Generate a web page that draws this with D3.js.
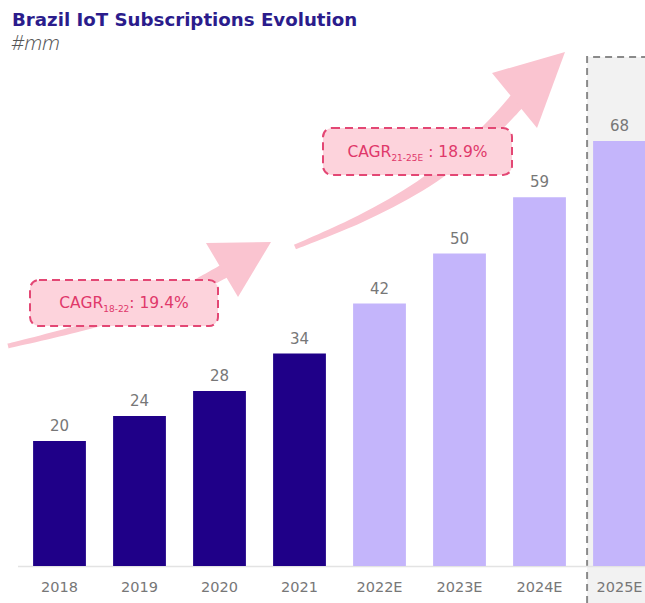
<!DOCTYPE html>
<html>
<head>
<meta charset="utf-8">
<script src="https://cdn.jsdelivr.net/npm/d3@7"></script>
<style>
  body { margin: 0; background: #fff; }
  svg { font-family: "DejaVu Sans", "Open Sans", sans-serif; }
</style>
</head>
<body>
<svg id="chart" width="645" height="603"></svg>
<script>
// chart data
const years = ["2018", "2019", "2020", "2021", "2022E", "2023E", "2024E", "2025E"];
const subscriptions = [20, 24, 28, 34, 42, 50, 59, 68];
const isEstimate = [false, false, false, false, true, true, true, true];
const cagrLabels = [
    { main: "CAGR", sub: "18-22", rest: ": 19.4%" },
    { main: "CAGR", sub: "21-25E", rest: " : 18.9%" }
];

const svg = d3.select("#chart");

const x = d3.scaleBand()
    .domain(years)
    .range([19.5, 659.5])
    .paddingInner(0.34)
    .paddingOuter(0.17);

const y = d3.scaleLinear()
    .domain([0, 80])
    .range([566, 66]);

// Highlight for the last year
const lastX = x("2025E") - 6;
svg.append("rect")
    .attr("x", lastX)
    .attr("y", 57)
    .attr("width", 645 - lastX)
    .attr("height", 603 - 57)
    .attr("fill", "#f2f2f2");

svg.append("path")
    .attr("d", `M${lastX},603 L${lastX},57 L645,57`)
    .attr("fill", "none")
    .attr("stroke", "#8a8a8a")
    .attr("stroke-width", 2)
    .attr("stroke-dasharray", "7,5");

// Title
svg.append("text")
    .attr("x", 12)
    .attr("y", 26)
    .text("Brazil IoT Subscriptions Evolution")
    .style("font-size", "18.2px")
    .style("font-weight", "bold")
    .style("fill", "#2b1c8c");

svg.append("text")
    .attr("x", 11)
    .attr("y", 50)
    .text("#mm")
    .style("font-family", "'Open Sans', sans-serif")
    .style("font-size", "21px")
    .style("font-style", "italic")
    .style("font-weight", "300")
    .style("fill", "#555");

// Growth arrows (pink, drawn behind the callouts)
// centre line + width at each point, then a triangle head
function drawArrow(center, widths, head) {
    const top = [], bottom = [];
    center.forEach((p, i) => {
        const a = center[Math.max(i - 1, 0)];
        const b = center[Math.min(i + 1, center.length - 1)];
        const dx = b[0] - a[0], dy = b[1] - a[1];
        const len = Math.hypot(dx, dy);
        const nx = -dy / len, ny = dx / len;
        const w = widths[i] / 2;
        top.push([p[0] + nx * w, p[1] + ny * w]);
        bottom.push([p[0] - nx * w, p[1] - ny * w]);
    });
    const edge = d3.line().curve(d3.curveCatmullRom);
    const d = edge(top) + "L" + edge(bottom.reverse()).slice(1) + "Z";
    svg.append("path")
        .attr("d", d)
        .attr("fill", "#fac4d0");
    svg.append("path")
        .attr("d", d3.line()(head) + "Z")
        .attr("fill", "#fac4d0");
}

drawArrow(
    [[8, 346], [80, 328], [150, 306], [200, 284], [226, 270]],
    [5, 7, 10, 13, 14],
    [[206, 243], [271, 242], [238, 297]]
);

drawArrow(
    [[295, 247], [360, 219], [420, 186], [470, 148], [500, 120], [518, 100]],
    [5, 8, 11, 14, 16, 17],
    [[492, 73], [565, 52], [537, 128]]
);

// Baseline
svg.append("line")
    .attr("x1", 18)
    .attr("x2", 645)
    .attr("y1", y(0) + 0.5)
    .attr("y2", y(0) + 0.5)
    .attr("stroke", "#e3e3e3")
    .attr("stroke-width", 1.5);

// Bars
svg.selectAll(".bar")
    .data(years)
    .enter()
    .append("rect")
    .attr("class", "bar")
    .attr("x", d => x(d))
    .attr("y", (d, i) => y(subscriptions[i]))
    .attr("width", x.bandwidth())
    .attr("height", (d, i) => y(0) - y(subscriptions[i]))
    .attr("fill", (d, i) => isEstimate[i] ? "#c4b5fb" : "#1f0088");

// Value labels
svg.selectAll(".value")
    .data(years)
    .enter()
    .append("text")
    .attr("class", "value")
    .attr("x", d => x(d) + x.bandwidth() / 2)
    .attr("y", (d, i) => y(subscriptions[i]) - 10)
    .attr("text-anchor", "middle")
    .text((d, i) => subscriptions[i])
    .style("font-size", "15px")
    .style("fill", "#777");

// x axis labels
const xAxis = svg.append("g")
    .attr("transform", `translate(0,${y(0)})`)
    .call(d3.axisBottom(x).tickSize(0).tickPadding(16));
xAxis.select(".domain").remove();
xAxis.selectAll("text")
    .style("font-size", "14.5px")
    .style("fill", "#777")
    .style("font-family", "'DejaVu Sans', sans-serif");

// CAGR callouts
const boxes = [
    { x: 30, y: 280, w: 188, h: 46 },
    { x: 323, y: 128, w: 189, h: 47 }
];

boxes.forEach((b, i) => {
    svg.append("rect")
        .attr("x", b.x)
        .attr("y", b.y)
        .attr("width", b.w)
        .attr("height", b.h)
        .attr("rx", 9)
        .attr("fill", "#fdd3dc")
        .attr("stroke", "#e34774")
        .attr("stroke-width", 2)
        .attr("stroke-dasharray", "8,5");

    const t = svg.append("text")
        .attr("x", b.x + b.w / 2)
        .attr("y", b.y + b.h / 2 + 5)
        .attr("text-anchor", "middle")
        .style("font-size", "15.5px")
        .style("fill", "#e0386a");
    t.append("tspan").text(cagrLabels[i].main);
    t.append("tspan")
        .attr("dy", 4)
        .style("font-size", "9px")
        .text(cagrLabels[i].sub);
    t.append("tspan")
        .attr("dy", -4)
        .text(cagrLabels[i].rest);
});
</script>
</body>
</html>
